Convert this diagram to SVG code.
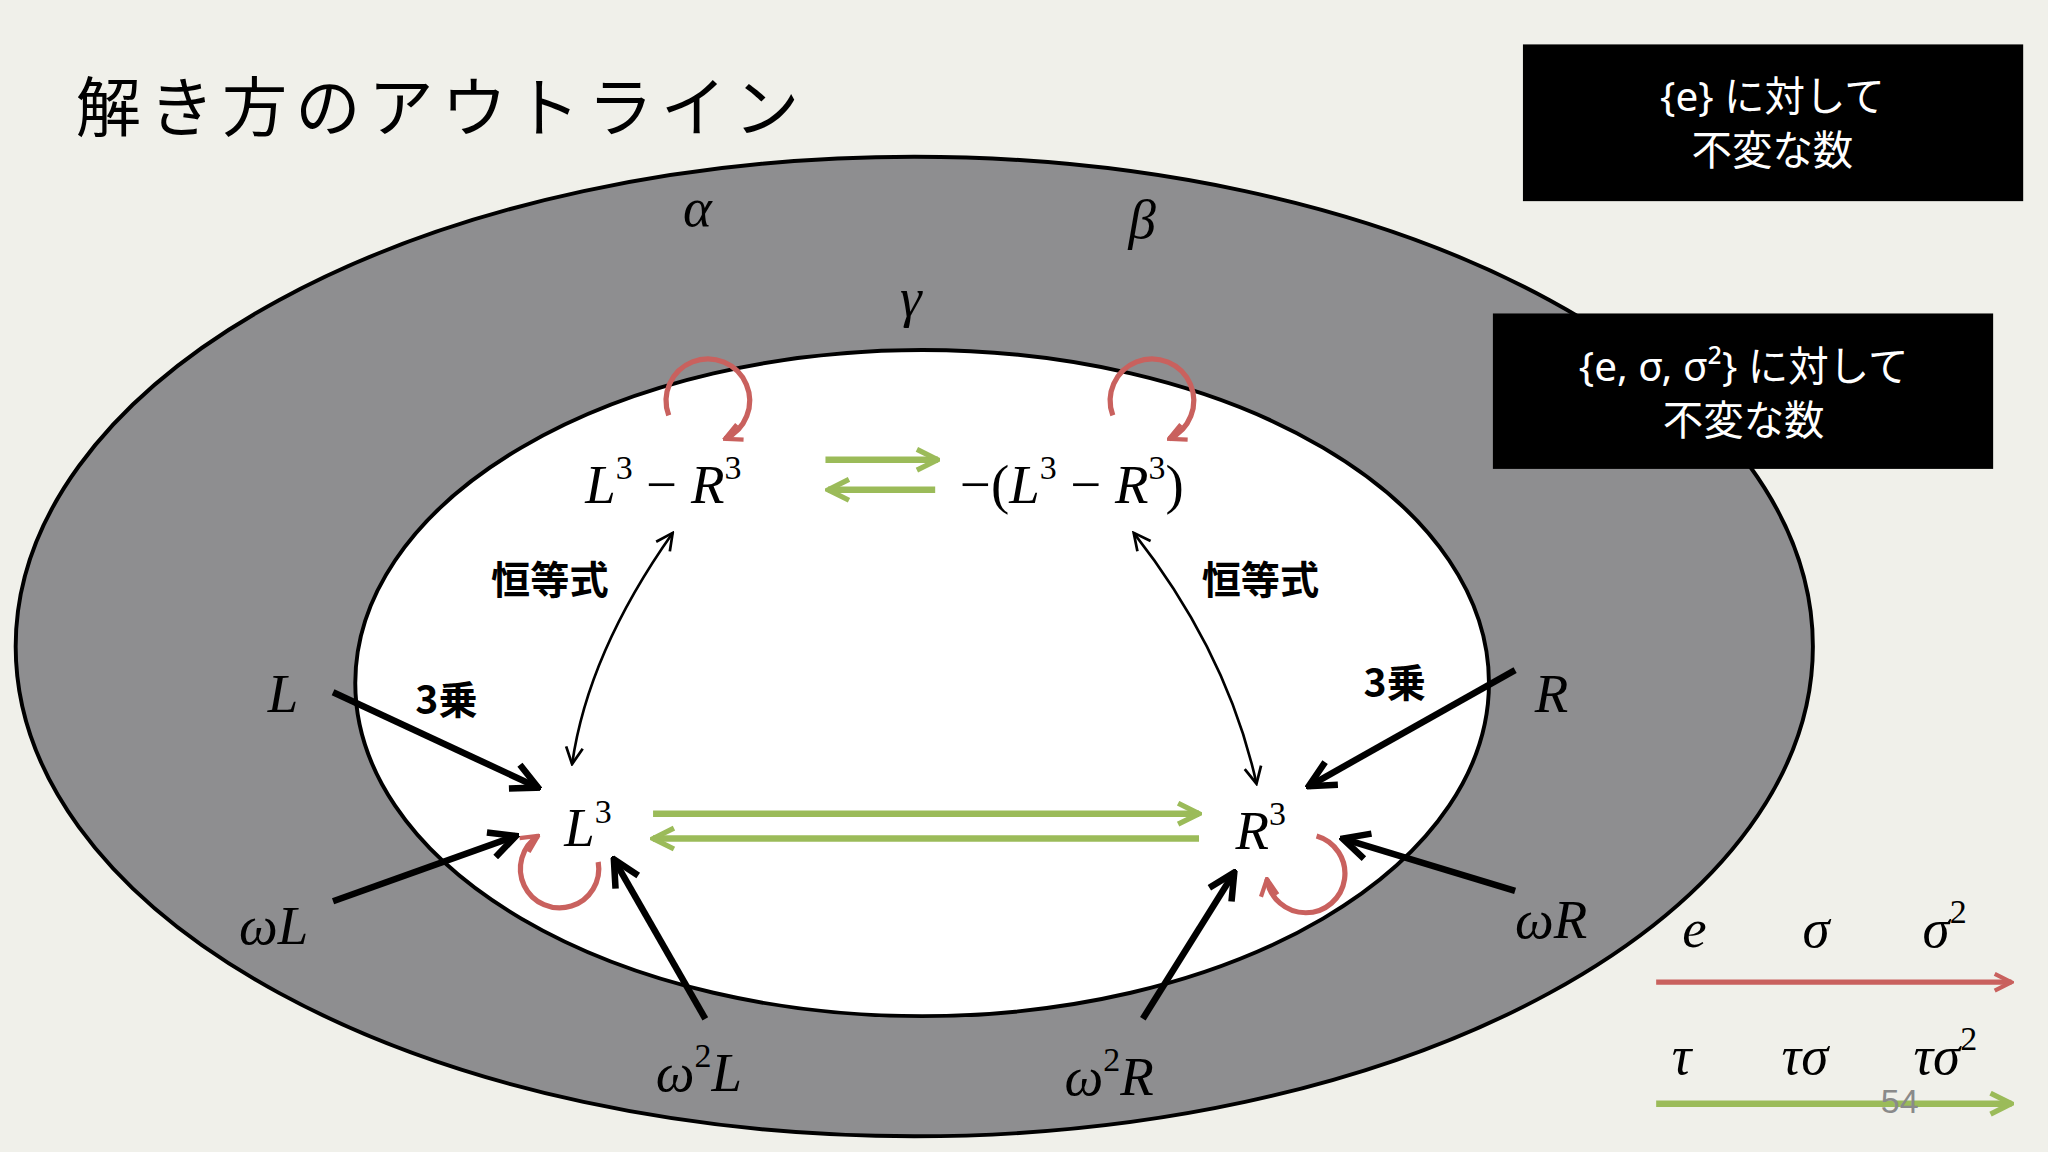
<svg xmlns="http://www.w3.org/2000/svg" width="2048" height="1152" viewBox="0 0 2048 1152">
<style>
.m{font-family:"Liberation Serif",serif;font-style:italic;font-size:42px;fill:#000}
.s{font-size:26px;font-style:normal}
.j{font-family:"Noto Sans CJK JP",sans-serif;fill:#000}
.w{font-family:"Noto Sans","Noto Sans CJK JP",sans-serif;fill:#fff;font-size:31px;text-anchor:middle}
.red{fill:none;stroke:#c9615e;stroke-width:4;marker-end:url(#ar)}
.grn{fill:none;stroke:#9bbb59;stroke-width:5;marker-end:url(#ag)}
.blk{fill:none;stroke:#000;stroke-width:5;marker-end:url(#ab)}
.thin{fill:none;stroke:#000;stroke-width:2;marker-end:url(#at);marker-start:url(#at2)}
</style>
<defs>
<marker id="ar" viewBox="0 0 10 10" refX="9" refY="5" markerWidth="4" markerHeight="4" orient="auto"><path d="M1,1 L9,5 L1,9" fill="none" stroke="#c9615e" stroke-width="2"/></marker>
<marker id="ag" viewBox="0 0 10 10" refX="9" refY="5" markerWidth="4" markerHeight="4" orient="auto"><path d="M1,1 L9,5 L1,9" fill="none" stroke="#9bbb59" stroke-width="2"/></marker>
<marker id="ab" viewBox="0 0 10 10" refX="9" refY="5" markerWidth="5" markerHeight="5" orient="auto"><path d="M1,1 L9,5 L1,9" fill="none" stroke="#000" stroke-width="2"/></marker>
<marker id="at" viewBox="0 0 10 10" refX="9" refY="5" markerWidth="8" markerHeight="8" orient="auto"><path d="M1,1 L9,5 L1,9" fill="none" stroke="#000" stroke-width="1.3"/></marker>
<marker id="at2" viewBox="0 0 10 10" refX="1" refY="5" markerWidth="8" markerHeight="8" orient="auto"><path d="M9,1 L1,5 L9,9" fill="none" stroke="#000" stroke-width="1.3"/></marker>
</defs>
<rect width="2048" height="1152" fill="#f0f0ea"/>
<g transform="scale(1.30612)">
<g id="title"><text class="j" x="58" y="100" font-size="50" letter-spacing="6">解き方のアウトライン</text></g>
<g id="outer"><ellipse cx="700" cy="495" rx="688" ry="375" fill="#8e8e90" stroke="#000" stroke-width="3"/></g>
<g id="inner"><ellipse cx="706" cy="523" rx="434" ry="255" fill="#fff" stroke="#000" stroke-width="3"/></g>
<g id="greek">
<text class="m" x="523" y="173">α</text>
<text class="m" x="864" y="182">β</text>
<text class="m" x="689" y="242">γ</text>
</g>
<g id="box1"><rect x="1166" y="34" width="383" height="120" fill="#000"/>
<text class="w" x="1357" y="85">{e} に対して</text><text class="w" x="1357" y="126">不変な数</text></g>
<g id="box2"><rect x="1143" y="240" width="383" height="119" fill="#000"/>
<text class="w" x="1335" y="292">{e, σ, σ²} に対して</text><text class="w" x="1335" y="333">不変な数</text></g>
<g id="n-top-left"><text class="m" x="448" y="385">L<tspan class="s" dy="-18">3</tspan><tspan dy="18" font-style="normal"> − </tspan>R<tspan class="s" dy="-18">3</tspan></text></g>
<g id="n-top-right"><text class="m" x="735" y="385"><tspan font-style="normal">−(</tspan>L<tspan class="s" dy="-18">3</tspan><tspan dy="18" font-style="normal"> − </tspan>R<tspan class="s" dy="-18">3</tspan><tspan dy="18" font-style="normal">)</tspan></text></g>
<g id="n-L3"><text class="m" x="432" y="648">L<tspan class="s" dy="-18">3</tspan></text></g>
<g id="n-R3"><text class="m" x="946" y="650">R<tspan class="s" dy="-18">3</tspan></text></g>
<g id="labels">
<text class="m" x="205" y="545">L</text>
<text class="m" x="1175" y="545">R</text>
<text class="m" x="183" y="723">ωL</text>
<text class="m" x="1160" y="718">ωR</text>
<text class="m" x="502" y="835">ω<tspan class="s" dy="-18">2</tspan><tspan dy="18">L</tspan></text>
<text class="m" x="815" y="838">ω<tspan class="s" dy="-18">2</tspan><tspan dy="18">R</tspan></text>
<text class="j" x="376" y="455" font-size="30" font-weight="bold">恒等式</text>
<text class="j" x="920" y="455" font-size="30" font-weight="bold">恒等式</text>
<text class="j" x="318" y="547" font-size="30" font-weight="bold">3乗</text>
<text class="j" x="1044" y="534" font-size="30" font-weight="bold">3乗</text>
</g>
<g id="connectors">
<path class="red" d="M512,318 A32,32 0 1 1 555,336"/>
<path class="red" d="M852,318 A32,32 0 1 1 895,336"/>
<path class="red" d="M458,660 A30,30 0 1 1 412,640"/>
<path class="red" d="M1008,640 A30,30 0 1 1 970,673"/>
<path class="grn" d="M632,352 L718,352"/>
<path class="grn" d="M716,375 L634,375"/>
<path class="grn" d="M500,623 L918,623"/>
<path class="grn" d="M918,642 L500,642"/>
<path class="thin" d="M515,408 Q450,500 438,585"/>
<path class="thin" d="M868,408 Q940,500 962,600"/>
<path class="blk" d="M255,530 L412,603"/>
<path class="blk" d="M1160,513 L1002,602"/>
<path class="blk" d="M255,690 L395,640"/>
<path class="blk" d="M540,780 L470,658"/>
<path class="blk" d="M875,780 L945,668"/>
<path class="blk" d="M1160,682 L1028,642"/>
</g>
<g id="legend">
<text class="m" x="1288" y="725">e</text>
<text class="m" x="1380" y="725">σ</text>
<text class="m" x="1472" y="725">σ<tspan class="s" dy="-18">2</tspan></text>
<path class="red" d="M1268,752 L1540,752" stroke-width="5"/>
<text class="m" x="1280" y="822">τ</text>
<text class="m" x="1364" y="822">τσ</text>
<text class="m" x="1465" y="822">τσ<tspan class="s" dy="-18">2</tspan></text>
<path class="grn" d="M1268,845 L1540,845"/>
<text x="1440" y="852" font-family="Liberation Sans,sans-serif" font-size="26" fill="#8a8a8a">54</text>
</g>
</g>
</svg>
